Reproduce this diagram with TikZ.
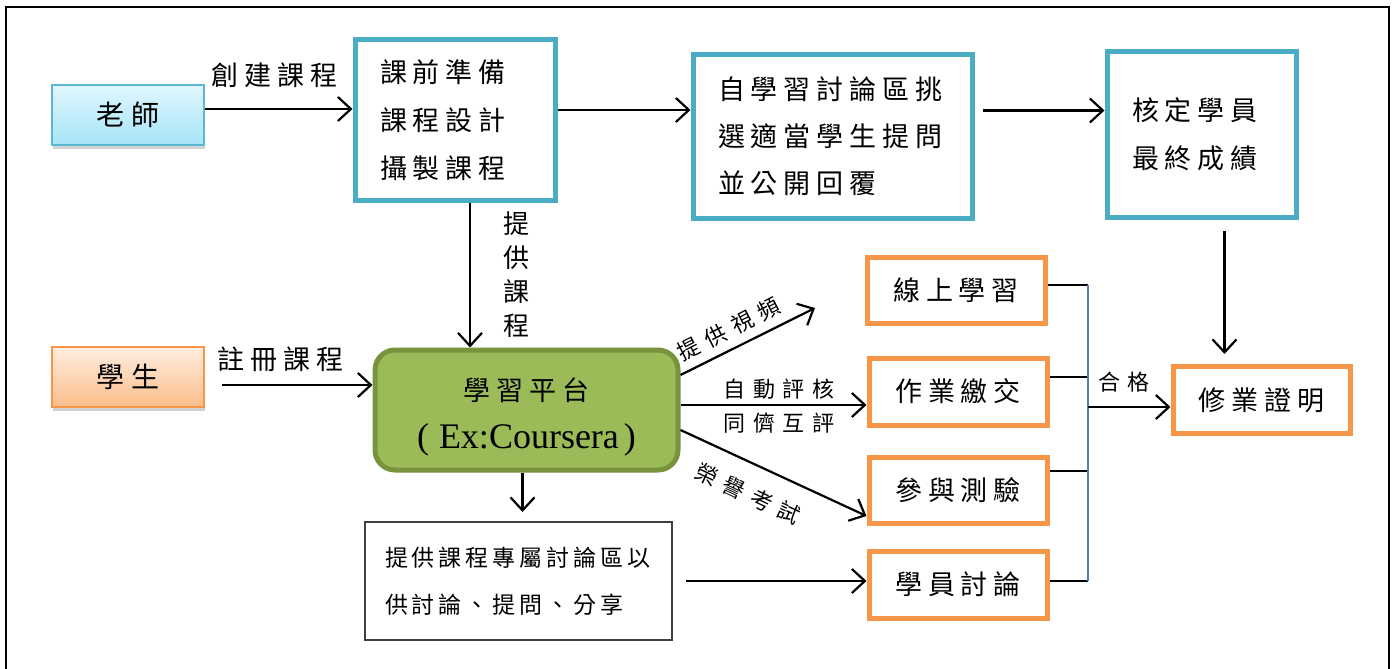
\documentclass[tikz,border=0pt]{standalone}
\usepackage{fontspec}
\usepackage{graphicx}
\setmainfont{Noto Sans CJK TC}
% CJK faces with extra tracking between the characters
\newfontfamily\zhbig[LetterSpace=22]{Noto Sans CJK TC}
\newfontfamily\zhmid[LetterSpace=17]{Noto Sans CJK TC}
\newfontfamily\zhsmall[LetterSpace=36]{Noto Sans CJK TC}
\newfontfamily\latinserif{Liberation Serif}
\usetikzlibrary{arrows.meta,shadows,calc}

\definecolor{aqualine}{HTML}{4BACC6}
\definecolor{orangeline}{HTML}{F79646}
\definecolor{greenfill}{HTML}{9BBB59}
\definecolor{greenline}{HTML}{77933C}
\definecolor{busblue}{HTML}{4F81BD}
\definecolor{teachtop}{HTML}{E0F6FD}
\definecolor{teachbot}{HTML}{A6E4F8}
\definecolor{teachline}{HTML}{5BB8CF}
\definecolor{studtop}{HTML}{FFEDE0}
\definecolor{studbot}{HTML}{FBBE8A}
\definecolor{forumline}{HTML}{404040}

\begin{document}
\begin{tikzpicture}[x=1pt,y=-1pt,
  bigfont/.style={font=\zhbig\fontsize{27}{48}\selectfont},
  midfont/.style={font=\zhmid\fontsize{23}{47}\selectfont},
  smallfont/.style={font=\zhsmall\fontsize{22}{35}\selectfont},
  conn/.style={line width=2.2pt,-{Straight Barb[length=13pt,width=24pt]}},
  actorbox/.style={line width=2pt,minimum width=152pt,minimum height=60pt,
    inner sep=0pt,font=\zhbig\fontsize{28}{48}\selectfont,
    drop shadow={shadow xshift=1pt,shadow yshift=-4pt,opacity=0.35}},
  stepbox/.style={draw=aqualine,line width=5pt,fill=white,inner sep=0pt,
    align=left,bigfont},
  goalbox/.style={draw=orangeline,line width=5pt,fill=white,inner sep=0pt,
    minimum width=178pt,minimum height=66pt,bigfont},
  lbl/.style={inner sep=0pt,bigfont},
  slbl/.style={inner sep=0pt,smallfont},
]
\useasboundingbox (0,0) rectangle (1395,669);
\fill[white] (0,0) rectangle (1395,669);

% outer frame (open at the bottom edge)
\draw[line width=1.5pt] (6,690) -- (6,7) -- (1389,7) -- (1389,690);

% actors
\node[actorbox,draw=teachline,top color=teachtop,bottom color=teachbot]
  (teacher) at (128,115) {老師};
\node[actorbox,draw=orangeline,top color=studtop,bottom color=studbot]
  (student) at (128,377) {學生};

% teacher's work flow
\node[stepbox,minimum width=200pt,minimum height=160pt,text width=150pt]
  (prep) at (455,120) {課前準備\\課程設計\\攝製課程};
\node[stepbox,minimum width=279pt,minimum height=163pt,text width=229pt,
  font=\zhbig\fontsize{27}{47}\selectfont]
  (pick) at (832.5,136.5) {自學習討論區挑\\選適當學生提問\\並公開回覆};
\node[stepbox,minimum width=189pt,minimum height=165pt,text width=139pt]
  (final) at (1201.5,134.5) {核定學員\\最終成績};

% learning platform (the strut lowers the two text lines a little)
\node[draw=greenline,fill=greenfill,line width=5pt,rounded corners=20pt,
  minimum width=303pt,minimum height=120pt,inner sep=0pt,align=center,
  font=\zhbig\fontsize{27}{48}\selectfont]
  (platform) at (526.5,410)
  {\rule{0pt}{37pt}學習平台\\{\latinserif\fontsize{36}{36}\selectfont(\hspace{10pt}Ex:Coursera\hspace{5pt})}};

% course forum
\node[draw=forumline,line width=2pt,fill=white,minimum width=307pt,
  minimum height=118pt,text width=267pt,inner sep=0pt,align=left,midfont]
  (forum) at (518.5,581) {提供課程專屬討論區以\\供討論、提問、分享};

% student activities
\node[goalbox] (online) at (956,290)   {線上學習};
\node[goalbox,minimum height=67pt] (hw) at (958,391.5) {作業繳交};
\node[goalbox] (quiz)   at (958,490)   {參與測驗};
\node[goalbox,minimum height=67pt] (talk) at (958,584.5) {學員討論};

% certificate
\node[goalbox,minimum width=177pt,minimum height=67pt] (cert) at (1261.5,400) {修業證明};

% teacher connectors
\draw[conn] ([yshift=6pt]teacher.east) -- ([yshift=6pt]teacher.east -| prep.west)
  node[lbl,pos=0.47,above=20pt] {創建課程};
\draw[conn] ([yshift=10pt]prep.east) -- ([yshift=10pt]prep.east -| pick.west);
\draw[conn,shorten <=8pt] ([yshift=26pt]pick.east) -- ([yshift=26pt]pick.east -| final.west);
\draw[conn,shorten <=11pt,shorten >=10pt] ([xshift=23pt]final.south) -- ([xshift=23pt]final.south |- cert.north);
\draw[conn] ([xshift=15pt]prep.south) -- ([xshift=15pt]prep.south |- platform.north);
\node[lbl,align=center,font=\zhbig\fontsize{26}{34}\selectfont] (offer) at (516,275) {提\\供\\課\\程};

% student enrolment
\draw[conn,shorten <=17pt] ([yshift=25pt]student.east |- platform.west) -- ([yshift=25pt]platform.west)
  node[lbl,pos=0.45,above=12pt] {註冊課程};

% platform outputs
\coordinate (videoEnd) at (815,308);
\draw[conn] ([yshift=35pt]platform.east) -- (videoEnd);
\node[slbl,rotate=27] (videoLbl) at (729,329) {提供視頻};

\draw[conn] ([yshift=5pt]platform.east) -- ([yshift=-13.5pt]hw.west);
\node[slbl] (autoLbl) at (779,389) {自動評核};
\node[slbl] (peerLbl) at (779,423) {同儕互評};

\draw[conn] ([yshift=-20pt]platform.east) -- ([yshift=-26pt]quiz.west);
\node[slbl,rotate=-25] (examLbl) at (748,494) {榮譽考試};

\draw[conn,shorten >=9pt] ([xshift=-4pt]platform.south) -- ([xshift=-4pt]platform.south |- forum.north);
\draw[conn,shorten <=13pt] (forum.east) -- (forum.east -| talk.west);

% completion bus
\coordinate (busTop) at (1088,285);
\coordinate (busBot) at (1088,581);
\draw[line width=1.6pt] ([yshift=5pt]online.east) -- ([yshift=5pt]online.east -| busTop);
\draw[line width=1.6pt] ([yshift=14.5pt]hw.east) -- ([yshift=14.5pt]hw.east -| busTop);
\draw[line width=1.6pt] ([yshift=19pt]quiz.east) -- ([yshift=19pt]quiz.east -| busTop);
\draw[line width=1.6pt] ([yshift=3.5pt]talk.east) -- ([yshift=3.5pt]talk.east -| busTop);
\draw[busblue,line width=1.6pt] (busTop) -- (busBot);
\draw[conn] ([yshift=-7pt]cert.west -| busTop) -- ([yshift=-7pt]cert.west);
\node[slbl] (passLbl) at (1124,382) {合格};
\end{tikzpicture}
\end{document}
